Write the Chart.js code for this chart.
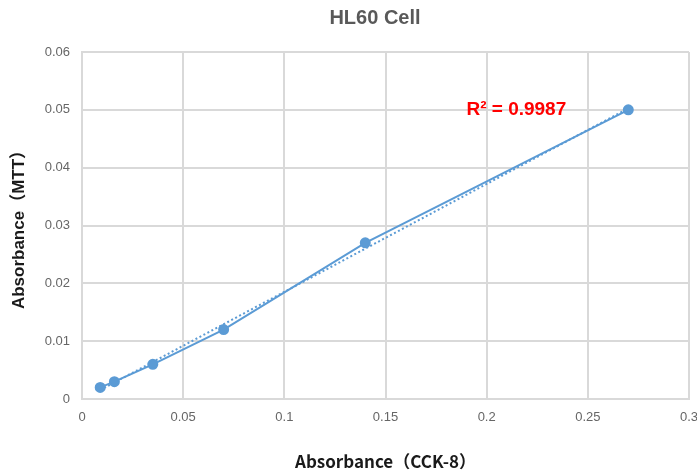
<!DOCTYPE html>
<html><head><meta charset="utf-8">
<script src="https://cdn.jsdelivr.net/npm/chart.js@4/dist/chart.umd.min.js"></script>
<style>html,body{margin:0;padding:0;background:#fff;overflow:hidden;width:697px;height:474px}</style>
</head><body>
<canvas id="c" width="710" height="474" style="width:710px;height:474px;display:block"></canvas>
<script>
const chartTitle = 'HL60 Cell';
const xAxisTitle = 'Absorbance（CCK-8）';
const yAxisTitle = 'Absorbance（MTT）';
const cck8 = [0.009, 0.016, 0.035, 0.07, 0.14, 0.27];
const mtt = [0.002, 0.003, 0.006, 0.012, 0.027, 0.05];
const rSquaredLabel = 'R² = 0.9987';
const xRange = [0, 0.3];
const yRange = [0, 0.06];
const xStep = 0.05;
const yStep = 0.01;

// linear least-squares trendline from the data
const n = cck8.length;
const mx = cck8.reduce((a,b)=>a+b,0)/n;
const my = mtt.reduce((a,b)=>a+b,0)/n;
let sxy=0, sxx=0;
for (let i=0;i<n;i++){ sxy += (cck8[i]-mx)*(mtt[i]-my); sxx += (cck8[i]-mx)**2; }
const slope = sxy/sxx, intercept = my - slope*mx;
const xFirst = Math.min(...cck8), xLast = Math.max(...cck8);
const trend = [{x:xFirst, y:intercept+slope*xFirst},{x:xLast, y:intercept+slope*xLast}];

const blue = '#5b9bd5';
const gridCol = '#d9d9d9';
const tickFont = {family:'"Liberation Sans", Arial, sans-serif', size:13};
const fmt = v => String(Number(Number(v).toFixed(3)));

const overlay = {
  id:'overlay',
  afterDatasetsDraw(chart){
    const {ctx, scales:{x,y}} = chart;
    ctx.save();
    ctx.fillStyle = '#ff0000';
    ctx.font = 'bold 19px "Liberation Sans", Arial, sans-serif';
    ctx.textAlign = 'left'; ctx.textBaseline = 'middle';
    ctx.fillText(rSquaredLabel, x.getPixelForValue(0.19), y.getPixelForValue(0.05));
    ctx.fillStyle = '#595959';
    ctx.font = 'bold 20px "Liberation Sans", Arial, sans-serif';
    ctx.textAlign = 'center';
    ctx.fillText(chartTitle, 375, 18);
    ctx.restore();
  }
};

new Chart(document.getElementById('c'), {
  type:'scatter',
  data:{datasets:[
    {label:'MTT', data:cck8.map((v,i)=>({x:v,y:mtt[i]})), showLine:true,
     borderColor:blue, backgroundColor:blue, borderWidth:2, pointRadius:4.5, pointHoverRadius:4.5, order:1},
    {label:'Trend', data:trend, showLine:true, borderColor:blue, borderWidth:2, borderDash:[2,2.5],
     pointRadius:0, order:2}
  ]},
  options:{
    responsive:false, animation:false, devicePixelRatio:1,
    layout:{padding:{top:52,right:21,left:0,bottom:0}},
    plugins:{legend:{display:false}, title:{display:false}, tooltip:{enabled:false}},
    scales:{
      x:{type:'linear', min:xRange[0], max:xRange[1],
         ticks:{stepSize:xStep, color:'#666', font:tickFont, padding:11, callback:fmt, maxRotation:0},
         grid:{color:gridCol, lineWidth:2, drawTicks:false},
         border:{color:gridCol, width:2},
         title:{display:true, text:xAxisTitle, color:'#1a1a1a',
                font:{family:'"Noto Sans CJK JP", "Noto Sans", sans-serif', size:17, weight:'bold'},
                padding:{top:0,bottom:2}},
         afterFit(s){ s.height = 75; }},
      y:{type:'linear', min:yRange[0], max:yRange[1],
         ticks:{stepSize:yStep, color:'#666', font:tickFont, padding:12, callback:fmt},
         grid:{color:gridCol, lineWidth:2, drawTicks:false},
         border:{color:gridCol, width:2},
         title:{display:true, text:yAxisTitle, color:'#1a1a1a',
                font:{family:'"Liberation Sans", Arial, "Noto Sans CJK JP", sans-serif', size:17, weight:'bold'},
                padding:{top:9,bottom:0}},
         afterFit(s){ s.width = 82; }}
    }
  },
  plugins:[overlay]
});
</script>
</body></html>
